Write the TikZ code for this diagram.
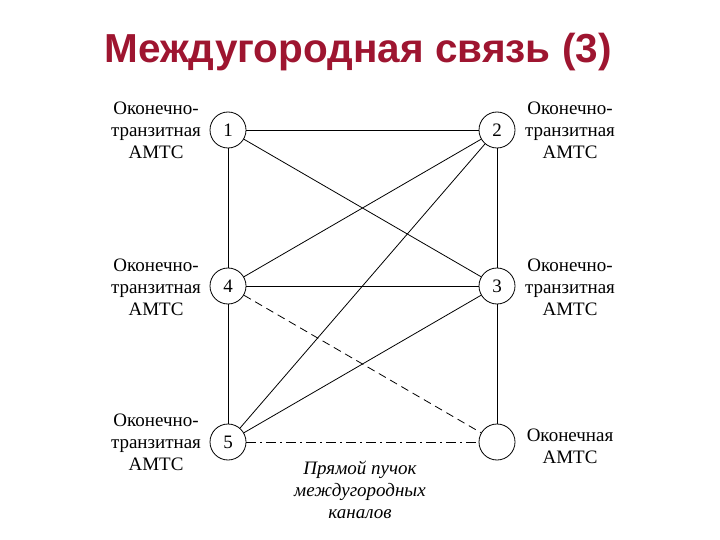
\documentclass[tikz,border=0pt]{standalone}
\usepackage{fontspec}
\setmainfont{Liberation Serif}
\newfontfamily\titlefont{Liberation Sans}
\definecolor{titlered}{HTML}{9E1530}
\begin{document}
\begin{tikzpicture}[x=1pt,y=-1pt,
  stn/.style={draw,circle,minimum size=36pt,inner sep=0pt,line width=0.8pt,font=\fontsize{19}{22}\selectfont},
  lbl/.style={align=center,inner sep=0pt,font=\fontsize{19}{22}\selectfont},
  link/.style={line width=0.8pt},
  dashlink/.style={line width=0.8pt,dash pattern=on 8pt off 5pt},
  dotlink/.style={line width=0.8pt,dash pattern=on 10pt off 4pt on 2pt off 4pt}]
\useasboundingbox (0,0) rectangle (720,540);
\node[font=\titlefont\bfseries\fontsize{40.5}{44}\selectfont,text=titlered] (title) at (358,52) {Междугородная связь (3)};
\node[stn] (n1) at (228,130) {1};
\node[stn] (n2) at (497,130) {2};
\node[stn] (n4) at (228,286) {4};
\node[stn] (n3) at (497,286) {3};
\node[stn] (n5) at (228,442) {5};
\node[stn] (n6) at (497,442) {};
\node[lbl] (l1) at (156,130) {Оконечно-\\транзитная\\АМТС};
\node[lbl] (l4) at (156,287) {Оконечно-\\транзитная\\АМТС};
\node[lbl] (l5) at (156,442) {Оконечно-\\транзитная\\АМТС};
\node[lbl] (l2) at (570,130) {Оконечно-\\транзитная\\АМТС};
\node[lbl] (l3) at (570,287) {Оконечно-\\транзитная\\АМТС};
\node[lbl] (l6) at (570,446) {Оконечная\\АМТС};
\node[lbl,font=\itshape\fontsize{19}{22}\selectfont] (bundle) at (360,490) {Прямой пучок\\междугородных\\каналов};
\draw[link] (n1) -- (n2);
\draw[link] (n1) -- (n4);
\draw[link] (n4) -- (n5);
\draw[link] (n2) -- (n3);
\draw[link] (n3) -- (n6);
\draw[link] (n4) -- (n3);
\draw[link] (n1) -- (n3);
\draw[link] (n4) -- (n2);
\draw[link] (n5) -- (n2);
\draw[link] (n5) -- (n3);
\draw[dashlink] (n4) -- (n6);
\draw[dotlink] (n5) -- (n6);
\end{tikzpicture}
\end{document}
